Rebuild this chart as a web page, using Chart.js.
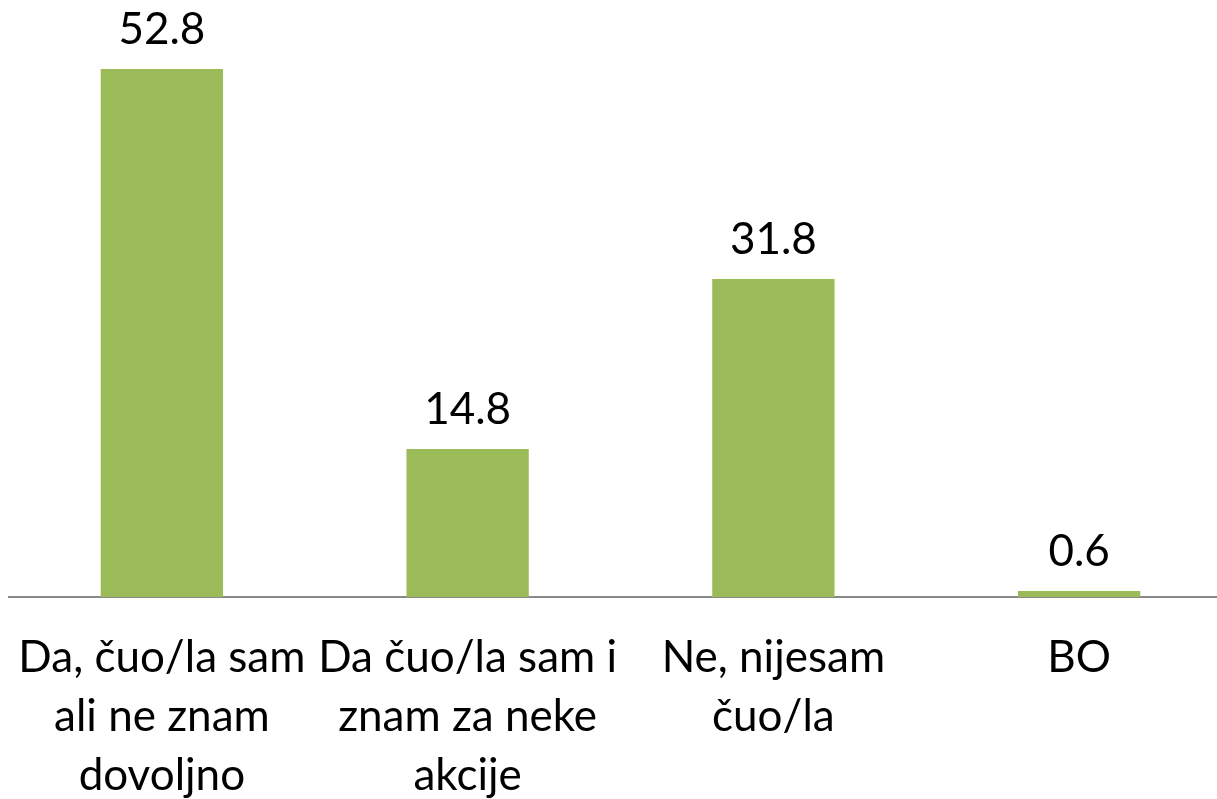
<!DOCTYPE html>
<html>
<head>
<meta charset="utf-8">
<script src="https://cdn.jsdelivr.net/npm/chart.js@4.4.0/dist/chart.umd.min.js"></script>
<style>
  body { margin: 0; overflow: hidden; background: #fff; }
</style>
</head>
<body>
<canvas id="awarenessChart" width="1232" height="799"></canvas>
<script>
// odgovori na pitanje
var labels = [
    ["Da, čuo/la sam", "ali ne znam", "dovoljno"],
    ["Da čuo/la sam i", "znam za neke", "akcije"],
    ["Ne, nijesam", "čuo/la"],
    ["BO"]
];
var values = [52.8, 14.8, 31.8, 0.6];

var fontFamily = "Lato, 'Open Sans', sans-serif";

// crta vrijednosti iznad stubova
var valueLabels = {
    id: "valueLabels",
    afterDatasetsDraw: function(chart) {
        var ctx = chart.ctx;
        var meta = chart.getDatasetMeta(0);
        ctx.save();
        ctx.font = "44px " + fontFamily;
        ctx.fillStyle = "#000";
        ctx.textAlign = "center";
        ctx.textBaseline = "alphabetic";
        meta.data.forEach(function(bar, i) {
            ctx.fillText(values[i].toFixed(1), bar.x, bar.y - 25);
        });
        ctx.restore();
    }
};

var ctx = document.getElementById("awarenessChart");

var barChart = new Chart(ctx, {
    type: "bar",
    data: {
        labels: labels,
        datasets: [
            {
                data: values,
                backgroundColor: "#9BBB59",
                borderWidth: 0,
                barPercentage: 0.4,
                categoryPercentage: 1
            }
        ]
    },
    options: {
        responsive: false,
        animation: false,
        layout: { padding: { left: 9, right: 0, top: 0, bottom: 0 } },
        plugins: {
            legend: { display: false },
            tooltip: { enabled: false }
        },
        scales: {
            x: {
                grid: { display: false, drawTicks: false },
                border: { display: true, color: "#898989", width: 2 },
                ticks: {
                    color: "#000",
                    font: { family: fontFamily, size: 44, lineHeight: 1.34 },
                    padding: 31,
                    maxRotation: 0,
                    autoSkip: false
                },
                afterFit: function(scale) {
                    scale.height = 202;
                    scale.paddingLeft = 0;
                    scale.paddingRight = 0;
                }
            },
            y: {
                display: false,
                min: 0,
                max: 59.7
            }
        }
    },
    plugins: [valueLabels]
});
</script>
</body>
</html>
